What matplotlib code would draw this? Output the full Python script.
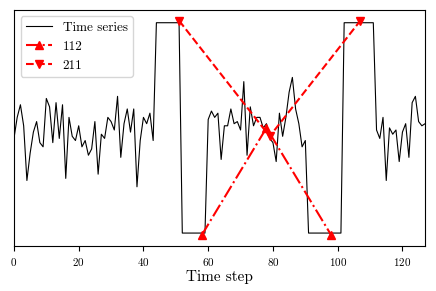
import matplotlib
matplotlib.use("Agg")
import matplotlib.pyplot as plt
import numpy as np

plt.rcParams["font.family"] = "serif"
plt.rcParams["font.serif"] = ["cmr10", "DejaVu Serif"]
plt.rcParams["mathtext.fontset"] = "cm"
plt.rcParams["axes.formatter.use_mathtext"] = True

# time series values (normalised: low level 0, high level 1)
series = [
    0.45, 0.55, 0.61, 0.51, 0.25, 0.38, 0.48, 0.53, 0.43, 0.41,
    0.64, 0.60, 0.43, 0.62, 0.45, 0.61, 0.26, 0.55, 0.46, 0.44,
    0.51, 0.41, 0.44, 0.37, 0.40, 0.53, 0.28, 0.47, 0.45, 0.55,
    0.53, 0.49, 0.65, 0.36, 0.52, 0.59, 0.48, 0.59, 0.22, 0.44,
    0.55, 0.52, 0.57, 0.44,
    1, 1, 1, 1, 1, 1, 1, 1,
    0, 0, 0, 0, 0, 0, 0, 0,
    0.54, 0.58, 0.55, 0.57, 0.35, 0.51, 0.51, 0.59, 0.52, 0.53,
    0.49, 0.72, 0.37, 0.60, 0.51, 0.55, 0.55, 0.50, 0.52, 0.45,
    0.43, 0.34, 0.57, 0.46, 0.55, 0.67, 0.74, 0.59, 0.52, 0.41,
    0.44,
    0, 0, 0, 0, 0, 0, 0, 0, 0, 0, 0,
    1, 1, 1, 1, 1, 1, 1, 1, 1, 1,
    0.49, 0.45, 0.55, 0.25, 0.50, 0.47, 0.49, 0.34, 0.48, 0.52,
    0.36, 0.62, 0.65, 0.53, 0.51, 0.52,
]

# motif "112": up-triangles
x_112 = [58, 78, 98]
y_112 = [-0.01, 0.50, -0.01]
# motif "211": down-triangles
x_211 = [51, 79, 107]
y_211 = [1.01, 0.46, 1.01]

fig, ax = plt.subplots(figsize=(4.36, 2.91), dpi=100)
fig.subplots_adjust(left=0.032, right=0.975, top=0.966, bottom=0.155)

t = np.arange(len(series))
ax.plot(t, series, color="black", lw=0.8, label="Time series")
ax.plot(x_112, y_112, color="red", ls="-.", lw=1.5, marker="^", ms=6,
        label="112")
ax.plot(x_211, y_211, color="red", ls="--", lw=1.5, marker="v", ms=6,
        label="211")

ax.set_xlim(0, 127)
ax.set_yticks([])
ax.set_xlabel("Time step", fontsize=11, labelpad=2)
ax.tick_params(axis="x", labelsize=8)
ax.legend(loc="upper left", fontsize=9.5)

fig.savefig("out.png", dpi=100)
